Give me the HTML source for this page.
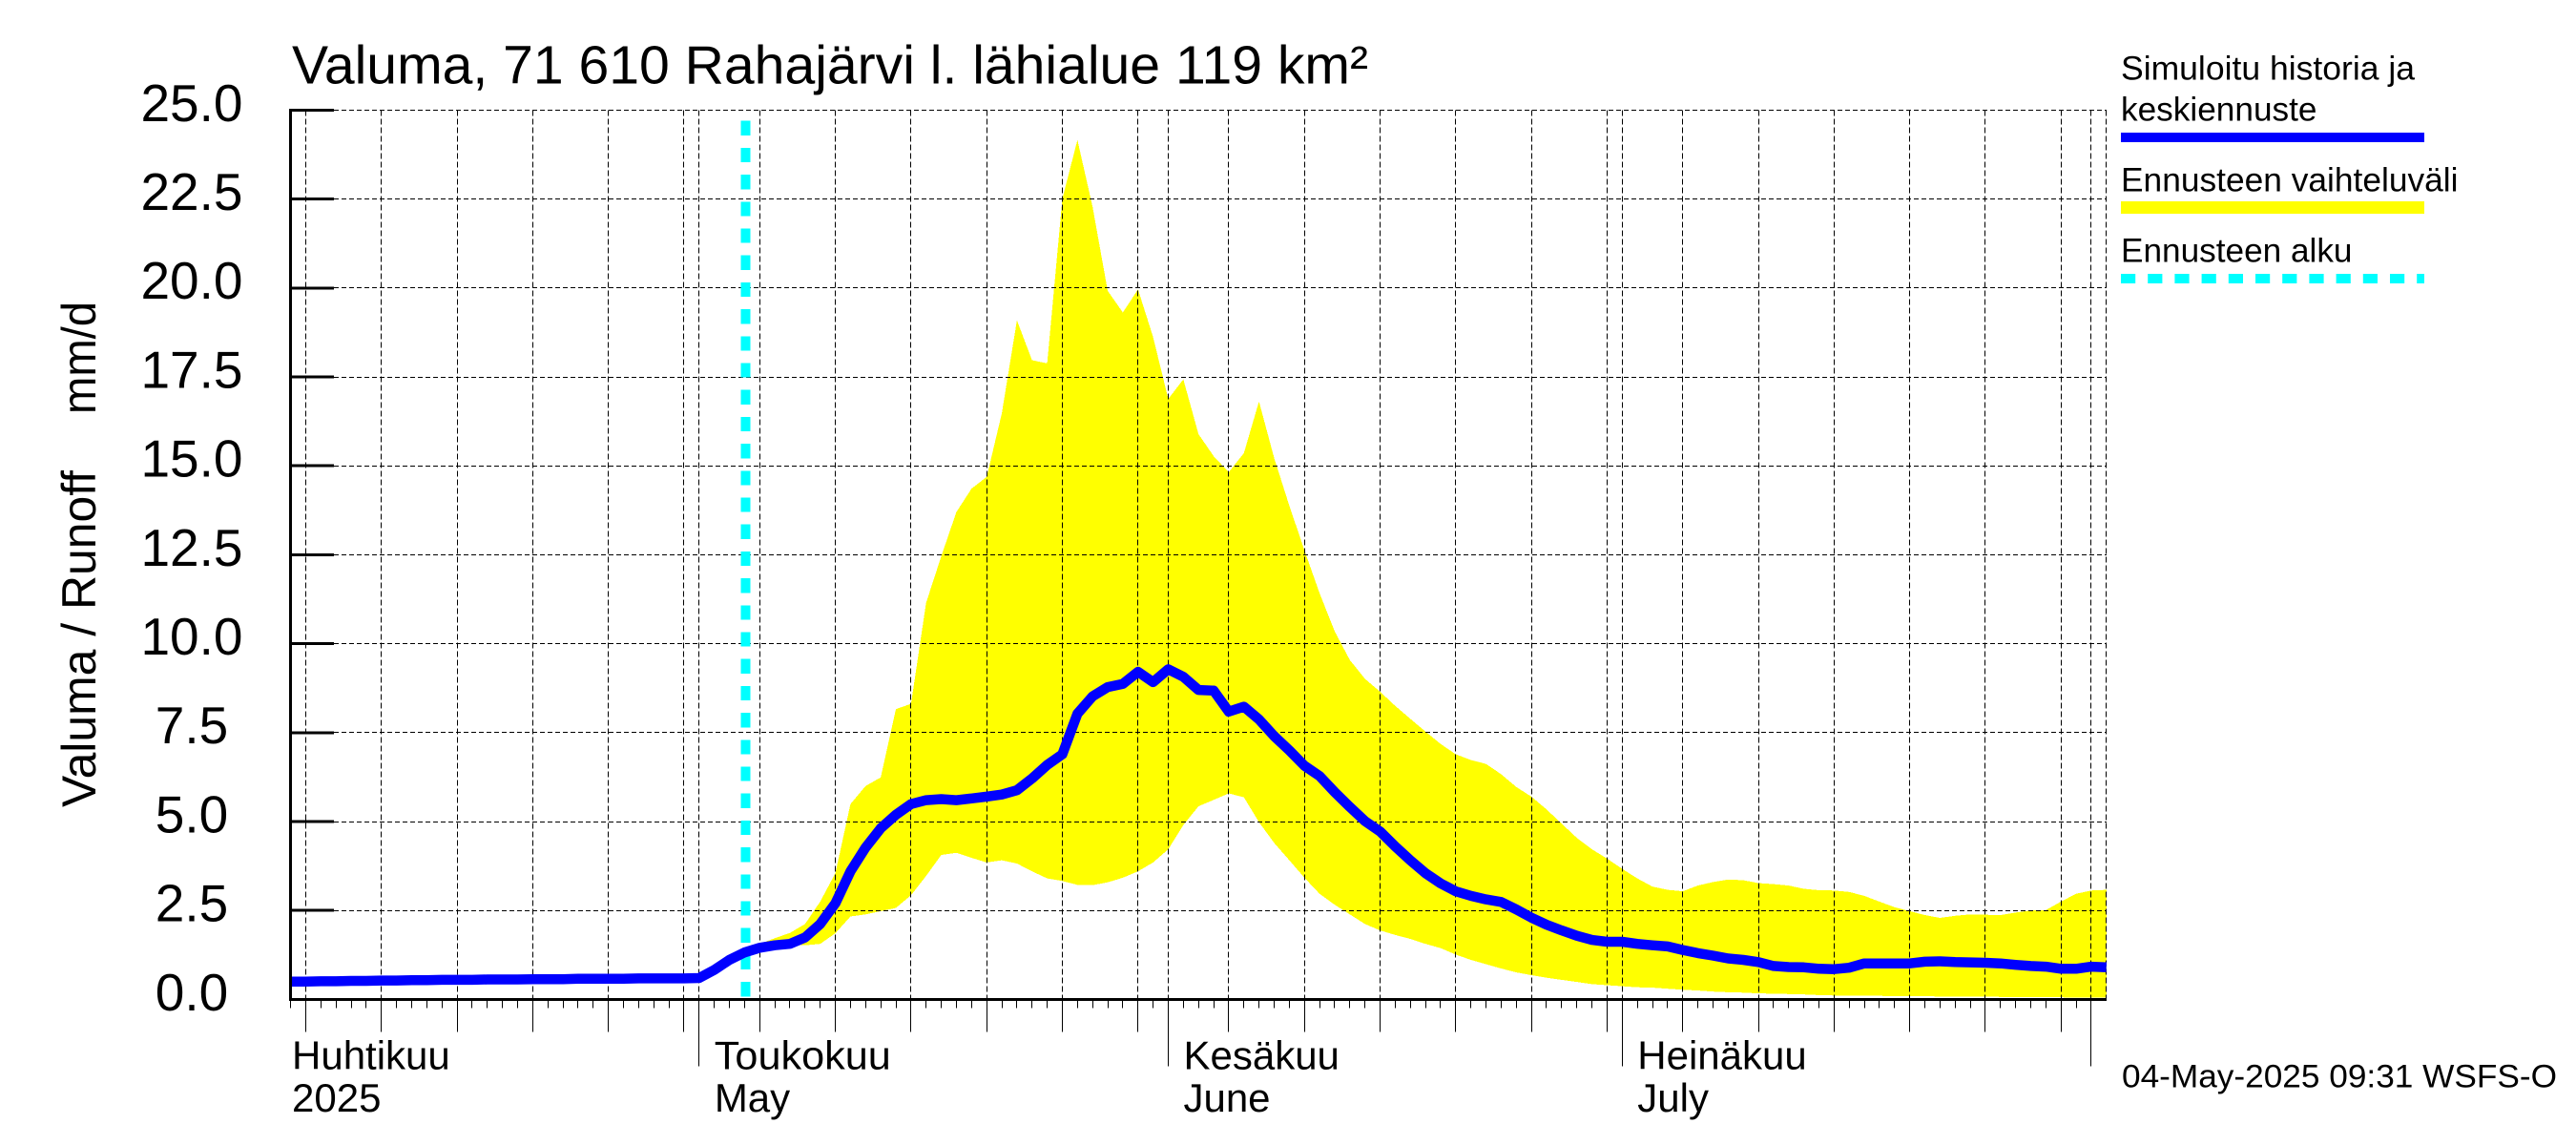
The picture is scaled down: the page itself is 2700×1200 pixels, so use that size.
<!DOCTYPE html>
<html lang="fi">
<head>
<meta charset="utf-8">
<title>Valuma, 71 610 Rahajärvi l. lähialue 119 km²</title>
<style>
  html, body { margin: 0; padding: 0; background: #ffffff; }
  svg { display: block; }
  text { font-family: "Liberation Sans", sans-serif; fill: #000000; }
</style>
</head>
<body>
<svg id="chart" xmlns="http://www.w3.org/2000/svg" width="2700" height="1200" viewBox="0 0 2700 1200">
  <rect x="0" y="0" width="2700" height="1200" fill="#ffffff"/>
  <g id="band-layer"></g>
  <g id="grid-layer"></g>
  <g id="marker-layer"></g>
  <g id="line-layer"></g>
  <g id="axis-layer"></g>

  <text x="306" y="87.3" font-size="56.6" textLength="1128" lengthAdjust="spacingAndGlyphs">Valuma, 71 610 Rahajärvi l. lähialue 119 km²</text>

  <text transform="translate(100 846) rotate(-90)" font-size="50" textLength="353" lengthAdjust="spacingAndGlyphs">Valuma / Runoff</text>
  <text transform="translate(100 434) rotate(-90)" font-size="50" textLength="118" lengthAdjust="spacingAndGlyphs">mm/d</text>

  <g>
    <text x="2223" y="83.3" font-size="35" textLength="308" lengthAdjust="spacingAndGlyphs">Simuloitu historia ja</text>
    <text x="2223" y="126.7" font-size="35" textLength="205.5" lengthAdjust="spacingAndGlyphs">keskiennuste</text>
    <rect x="2223" y="139" width="318" height="10" fill="#0000ff"/>
    <text x="2223" y="200.7" font-size="35" textLength="353.5" lengthAdjust="spacingAndGlyphs">Ennusteen vaihteluväli</text>
    <rect x="2223" y="211" width="318" height="13" fill="#ffff00"/>
    <text x="2223" y="274.3" font-size="35" textLength="242.5" lengthAdjust="spacingAndGlyphs">Ennusteen alku</text>
    <line x1="2223" y1="292" x2="2541" y2="292" stroke="#00ffff" stroke-width="10" stroke-dasharray="15.2 13"/>
  </g>

  <text x="2224" y="1139.3" font-size="34.4" textLength="456" lengthAdjust="spacingAndGlyphs">04-May-2025 09:31 WSFS-O</text>
</svg>

<script>
// Chart data: one value per day, day index 0 = 4 April 2025
const yTicks = [0, 2.5, 5, 7.5, 10, 12.5, 15, 17.5, 20, 22.5, 25];
const monthDays = [0, 27, 58, 88, 119];
const monthLabelsFi = ["Huhtikuu", "Toukokuu", "Kesäkuu", "Heinäkuu"];
const monthLabelsEn = ["2025", "May", "June", "July"];
const fiveDayTicks = [1, 6, 11, 16, 21, 26, 31, 36, 41, 46, 51, 56, 62, 67, 72, 77, 82, 87, 92, 97, 102, 107, 112, 117];
const totalDays = 120;
const forecastStartDay = 30;

const meanSeries = [
  0.50, 0.50, 0.51, 0.51, 0.52, 0.52, 0.53, 0.53, 0.54, 0.54, 0.55, 0.55, 0.55, 0.56,
  0.56, 0.56, 0.57, 0.57, 0.57, 0.58, 0.58, 0.58, 0.58, 0.59, 0.59, 0.59, 0.59, 0.60,
  0.83, 1.11, 1.32, 1.45, 1.52, 1.56, 1.74, 2.12, 2.70, 3.60, 4.27, 4.81,
  5.19, 5.49, 5.60, 5.63, 5.60, 5.65, 5.70, 5.76, 5.88, 6.21, 6.59, 6.89,
  8.03, 8.52, 8.78, 8.87, 9.21, 8.92, 9.28, 9.07, 8.70, 8.68, 8.09, 8.23,
  7.87, 7.40, 7.00, 6.57, 6.28, 5.83, 5.41, 5.01, 4.72, 4.30, 3.91, 3.55,
  3.26, 3.04, 2.91, 2.81, 2.74, 2.53, 2.30, 2.10, 1.94, 1.79, 1.67, 1.62,
  1.62, 1.56, 1.52, 1.49, 1.39, 1.30, 1.23, 1.15, 1.11, 1.05, 0.94, 0.91,
  0.90, 0.86, 0.85, 0.89, 1.01, 1.01, 1.01, 1.01, 1.06, 1.07, 1.05, 1.04,
  1.03, 1.01, 0.97, 0.94, 0.92, 0.86, 0.86, 0.92, 0.90
];

// Forecast range starts at the forecast start day
const upperBand = [
  1.33, 1.56, 1.72, 1.87, 2.12, 2.75, 3.55, 5.49, 6.00, 6.24, 8.16, 8.31, 11.15,
  12.46, 13.70, 14.36, 14.69, 16.47, 19.09, 17.97, 17.88, 22.51, 24.16, 22.28,
  19.92, 19.31, 19.96, 18.62, 16.88, 17.43, 15.89, 15.27, 14.82, 15.36, 16.81,
  15.22, 13.88, 12.63, 11.42, 10.35, 9.54, 9.01, 8.65, 8.25, 7.89, 7.53, 7.18,
  6.89, 6.73, 6.62, 6.33, 5.97, 5.70, 5.34, 4.94, 4.54, 4.22, 3.96, 3.67, 3.40,
  3.17, 3.08, 3.04, 3.20, 3.30, 3.37, 3.35, 3.27, 3.24, 3.20, 3.11, 3.07, 3.06,
  3.02, 2.91, 2.75, 2.59, 2.48, 2.37, 2.29, 2.35, 2.39, 2.38, 2.37, 2.44, 2.50,
  2.51, 2.75, 2.97, 3.06, 3.08
];
const lowerBand = [
  1.33, 1.45, 1.50, 1.55, 1.52, 1.56, 1.86, 2.33, 2.39, 2.48, 2.57, 2.93, 3.47,
  4.06, 4.12, 3.98, 3.85, 3.91, 3.82, 3.60, 3.40, 3.33, 3.22, 3.21, 3.29, 3.42,
  3.60, 3.85, 4.22, 4.90, 5.43, 5.61, 5.79, 5.68, 4.98, 4.40, 3.91, 3.42, 2.97,
  2.66, 2.39, 2.12, 1.94, 1.81, 1.70, 1.56, 1.44, 1.26, 1.11, 0.99, 0.87, 0.76,
  0.68, 0.61, 0.55, 0.49, 0.43, 0.40, 0.37, 0.34, 0.33, 0.30, 0.27, 0.25, 0.22,
  0.20, 0.19, 0.17, 0.16, 0.15, 0.14, 0.12, 0.11, 0.11, 0.10, 0.10, 0.09, 0.09,
  0.09, 0.08, 0.08, 0.08, 0.08, 0.07, 0.07, 0.06, 0.06, 0.06, 0.05, 0.05, 0.05
];

const SVG_NS = "http://www.w3.org/2000/svg";
const plotLeft = 304.6;
const pxPerDay = 15.86;
const plotBottom = 1047.4;
const pxPerUnit = 37.28;
const yDomainMax = 25;

function xScale(day) { return plotLeft + pxPerDay * day; }
function yScale(value) { return plotBottom - pxPerUnit * value; }
function crisp(px) { return Math.floor(px) + 0.5; }

function makeLine(layer, name, x1, y1, x2, y2, stroke, width, dash) {
  const el = document.createElementNS(SVG_NS, "line");
  
  
  el.setAttribute("x1", x1);
  el.setAttribute("y1", y1);
  el.setAttribute("x2", x2);
  el.setAttribute("y2", y2);
  el.setAttribute("stroke", stroke);
  el.setAttribute("stroke-width", width);
  el.setAttribute("shape-rendering", "crispEdges");
  if (dash) el.setAttribute("stroke-dasharray", dash);
  layer.appendChild(el);
  return el;
}

function makeText(layer, name, x, y, size, anchor, content) {
  const el = document.createElementNS(SVG_NS, "text");
  
  
  el.setAttribute("x", x);
  el.setAttribute("y", y);
  el.setAttribute("font-size", size);
  el.setAttribute("text-anchor", anchor);
  el.textContent = content;
  layer.appendChild(el);
  return el;
}

const bandLayer = document.getElementById("band-layer");
const gridLayer = document.getElementById("grid-layer");
const markerLayer = document.getElementById("marker-layer");
const lineLayer = document.getElementById("line-layer");
const axisLayer = document.getElementById("axis-layer");

// Forecast range polygon
const bandPoints = [];
upperBand.forEach(function (v, k) {
  bandPoints.push(xScale(forecastStartDay + k).toFixed(1) + "," + yScale(v).toFixed(1));
});
for (let k = lowerBand.length - 1; k >= 0; k--) {
  bandPoints.push(xScale(forecastStartDay + k).toFixed(1) + "," + yScale(lowerBand[k]).toFixed(1));
}
const band = document.createElementNS(SVG_NS, "polygon");


band.setAttribute("points", bandPoints.join(" "));
band.setAttribute("fill", "#ffff00");
band.setAttribute("shape-rendering", "crispEdges");
bandLayer.appendChild(band);

// Grid
const axisTop = yScale(yDomainMax);
const axisRight = xScale(totalDays);
const tickEndX = 350;
yTicks.forEach(function (v) {
  const y = crisp(yScale(v));
  if (v > 0) {
    makeLine(gridLayer, "horizontal-gridline", tickEndX, y, axisRight, y, "#000000", 1, "5 3");
  }
});
fiveDayTicks.concat(monthDays.slice(1), [totalDays]).forEach(function (day) {
  const x = crisp(xScale(day));
  makeLine(gridLayer, "vertical-gridline", x, axisTop, x, plotBottom, "#000000", 1, "6 3");
});

// Forecast start marker
makeLine(markerLayer, "forecast-start-line", xScale(forecastStartDay) + 1, 126.7, xScale(forecastStartDay) + 1, plotBottom, "#00ffff", 10, "15.2 13");

// Mean line
const meanPoints = meanSeries.map(function (v, k) {
  return xScale(k).toFixed(1) + "," + yScale(v).toFixed(1);
});
const meanLine = document.createElementNS(SVG_NS, "polyline");


meanLine.setAttribute("points", meanPoints.join(" "));
meanLine.setAttribute("fill", "none");
meanLine.setAttribute("stroke", "#0000ff");
meanLine.setAttribute("stroke-width", "10.5");
meanLine.setAttribute("stroke-linejoin", "round");
lineLayer.appendChild(meanLine);

// Axes, ticks and labels
makeLine(axisLayer, "y-axis-line", 304.5, axisTop - 1.5, 304.5, plotBottom + 1.5, "#000000", 3);
makeLine(axisLayer, "x-axis-line", 303, 1047.5, axisRight, 1047.5, "#000000", 3);

yTicks.forEach(function (v) {
  const y = yScale(v);
  if (v > 0) {
    makeLine(axisLayer, "y-tick", 303, y, tickEndX, y, "#000000", 3);
  }
  makeText(axisLayer, "y-tick-label", 201, y + 11.4, 55, "middle", v.toFixed(1));
});

for (let day = 0; day < totalDays; day++) {
  const x = crisp(xScale(day));
  makeLine(axisLayer, "x-minor-tick", x, plotBottom, x, 1056.7, "#000000", 1);
}
fiveDayTicks.forEach(function (day) {
  const x = crisp(xScale(day));
  makeLine(axisLayer, "x-five-day-tick", x, plotBottom, x, 1081.7, "#000000", 1);
});
monthDays.slice(1).forEach(function (day) {
  const x = crisp(xScale(day));
  makeLine(axisLayer, "x-month-tick", x, plotBottom, x, 1117.3, "#000000", 1);
});

monthLabelsFi.forEach(function (label, k) {
  const x = k === 0 ? 306 : xScale(monthDays[k]) + 16;
  const labelEl = makeText(axisLayer, "x-month-label-fi", x, 1120.7, 42, "start", label);
  if (label === "Toukokuu") {
    labelEl.setAttribute("textLength", "185");
    labelEl.setAttribute("lengthAdjust", "spacingAndGlyphs");
  }
  makeText(axisLayer, "x-month-label-en", x, 1165, 42, "start", monthLabelsEn[k]);
});
</script>
</body>
</html>
